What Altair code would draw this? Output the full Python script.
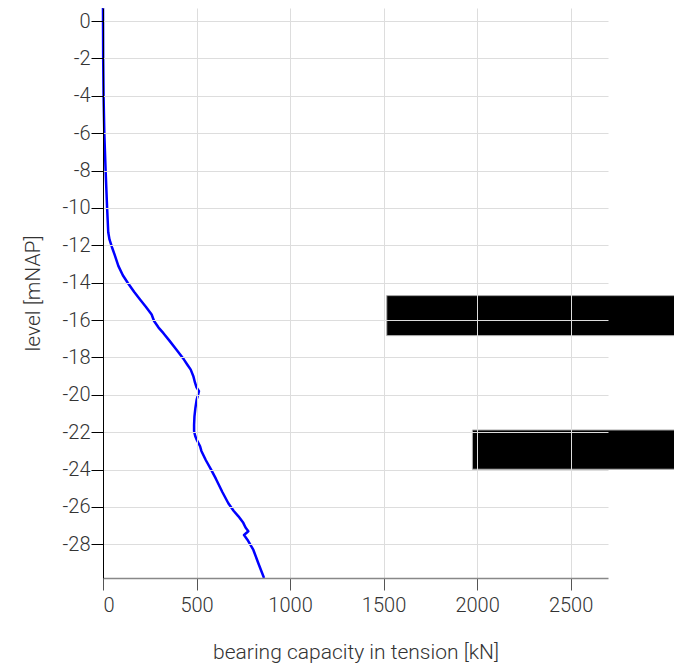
import altair as alt
import pandas as pd

# bearing capacity curve (level in mNAP, capacity in kN)
levels = [0.7, -2.0, -4.0, -6.0, -8.0, -10.0, -11.3, -11.7, -12.1, -12.5, -13.1, -13.6, -14.0,
          -14.5, -14.9, -15.3, -15.7, -16.05, -16.4, -16.7, -17.1, -17.6, -18.1, -18.4, -18.65,
          -19.0, -19.35, -19.6, -19.8, -20.0, -20.25, -20.7, -21.15, -21.6, -21.95, -22.2,
          -22.4, -22.75, -23.0, -23.5, -24.0, -24.5, -25.2, -25.8, -26.2, -26.5, -26.85, -27.1,
          -27.3, -27.5, -27.75, -28.3, -29.0, -29.8]
capacity = [0, 1, 3, 7, 14, 22, 28, 35, 48, 62, 82, 106, 132,
            167, 198, 230, 260, 273, 297, 323, 355, 394, 432, 452, 469,
            483, 492, 500, 513, 508, 501, 494, 489, 487, 487, 493,
            501, 519, 526, 550, 578, 604, 638, 670, 698, 724, 750, 762,
            777, 754, 772, 804, 830, 861]

# redacted boxes (data units)
box_x1 = [1517, 1975]
box_x2 = [3060, 3060]
box_top = [-14.69, -21.88]
box_bottom = [-16.83, -23.98]

x_ticks = [0, 500, 1000, 1500, 2000, 2500]
y_ticks = [0, -2, -4, -6, -8, -10, -12, -14, -16, -18, -20, -22, -24, -26, -28]

curve = pd.DataFrame({"level": levels, "cap": capacity, "idx": range(len(levels))})
boxes = pd.DataFrame({"x1": box_x1, "x2": box_x2, "y1": box_top, "y2": box_bottom})

FONT = "Roboto"
FS = 20
TFS = 21
xscale = alt.Scale(domain=[0, 2700], nice=False, zero=False)
yscale = alt.Scale(domain=[-29.8, 0.7], nice=False, zero=False)

xaxis = alt.Axis(values=x_ticks, title="bearing capacity in tension [kN]", grid=True,
                 format="d",
                 gridColor="#dddddd", domainColor="#888888", domainWidth=1.5,
                 tickColor="#555555", tickSize=12, labelPadding=5, labelFontSize=FS,
                 labelFont=FONT, labelFontWeight=300, labelColor="#333333",
                 titleFont=FONT, titleFontWeight=300, titleFontSize=TFS, titleColor="#333333",
                 titleY=74, titleBaseline="middle", zindex=1)
yaxis = alt.Axis(values=y_ticks, title="level [mNAP]", grid=True,
                 gridColor="#dddddd", domainColor="#000000", domainWidth=1,
                 tickColor="#000000", tickSize=12, labelPadding=1, labelFontSize=FS,
                 labelFont=FONT, labelFontWeight=300, labelColor="#333333",
                 labelExpr="datum.value == 0 ? '0' : '-' + abs(datum.value)",
                 titleFont=FONT, titleFontWeight=300, titleFontSize=TFS, titleColor="#333333",
                 titleX=-70, titleBaseline="middle", zindex=1)

rects = alt.Chart(boxes).mark_rect(color="black", stroke="#aaaaaa", strokeWidth=1,
                                   clip=False).encode(
    x=alt.X("x1:Q", scale=xscale, axis=xaxis),
    x2="x2:Q",
    y=alt.Y("y1:Q", scale=yscale, axis=yaxis),
    y2="y2:Q",
)

line = alt.Chart(curve).mark_line(color="#0000ff", strokeWidth=2.5, strokeJoin="round").encode(
    x=alt.X("cap:Q", scale=xscale, axis=xaxis),
    y=alt.Y("level:Q", scale=yscale, axis=yaxis),
    order="idx:Q",
)

chart = alt.layer(rects, line).properties(
    width=505, height=570,
    autosize=alt.AutoSizeParams(type="none"),
    padding={"left": 95, "top": 0, "right": 66, "bottom": 88},
).configure_view(stroke=None)

chart.save("out.html", embed_options={"renderer": "svg", "actions": False})
